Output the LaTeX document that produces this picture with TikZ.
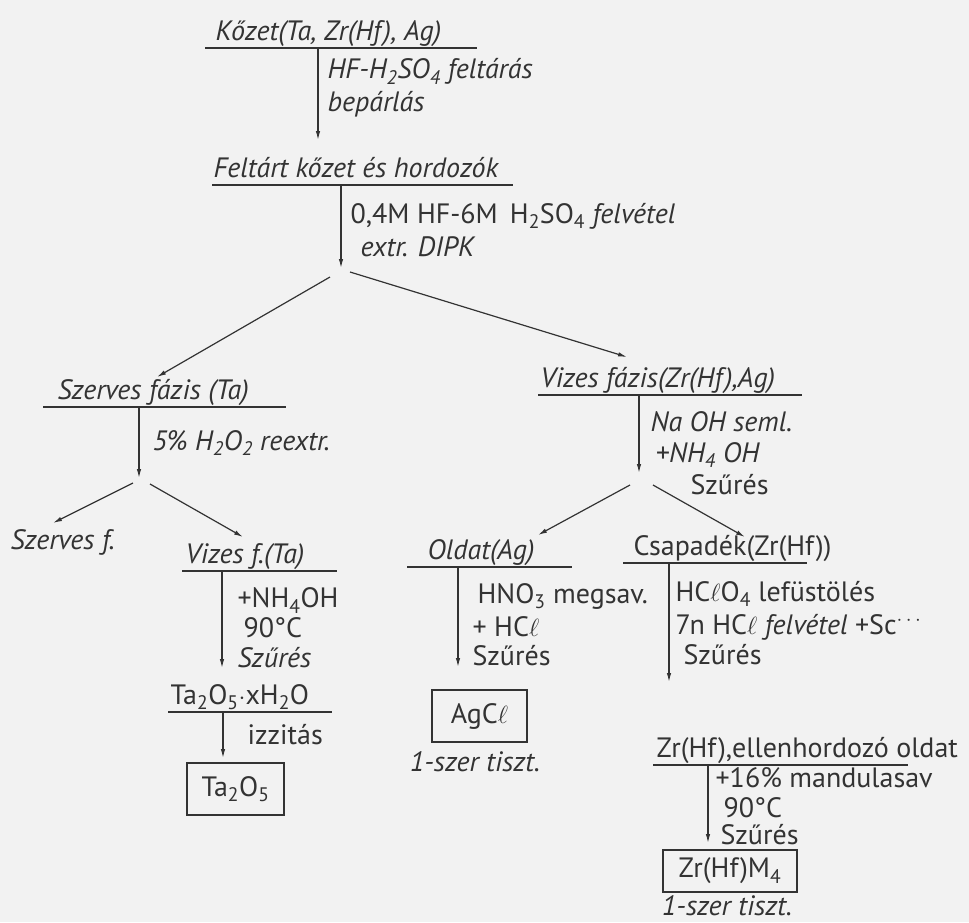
\documentclass[tikz,border=0pt]{standalone}
\usepackage{fontspec}
\setmainfont{PT Sans}
\usetikzlibrary{arrows.meta}

\begin{document}
\begin{tikzpicture}[x=1pt, y=-1pt,
        >={Latex[length=9pt,width=4.5pt]},   %Pfeilspitzen
        font=\fontsize{28}{33}\selectfont, line width=1.2pt, color=black!80,
        ul/.style={anchor=south west, inner sep=0pt, text depth=7pt},
        lbl/.style={anchor=west, align=left, inner sep=0pt},
        rahmen/.style={draw, inner sep=0pt}]
        %Hintergrund
        \path[use as bounding box, fill=gray!10] (0,0) rectangle (969,922);
        % Stoffe (unterstrichen)
        \node[ul] (koz) at (215,48) {\textit{Kőzet(Ta, Zr(Hf), Ag)}};
        \node[ul] (felt) at (213,185) {\textit{Feltárt kőzet és hordozók}};
        \node[ul] (szerv) at (57,407) {\textit{Szerves fázis (Ta)}};
        \node[ul] (vizes) at (540,395) {\textit{Vizes fázis(Zr(Hf),Ag)}};
        \node[ul] (vizesf) at (185,571) {\textit{Vizes f.(Ta)}};
        \node[ul] (taox) at (170,712) {Ta\textsubscript{2}O\textsubscript{5}$\cdot$xH\textsubscript{2}O};
        \node[ul] (oldat) at (427,567) {\textit{Oldat(Ag)}};
        \node[ul] (csap) at (633,563) {Csapadék(Zr(Hf))};
        \node[ul] (zrell) at (656,765) {Zr(Hf),ellenhordozó oldat};
        \foreach \n/\d/\w in {koz/10/272, felt/1/301, szerv/14/243, vizes/2/264, vizesf/3/155,
            taox/2/164, oldat/20/165, csap/10/184, zrell/3/255}
            \draw (\n.south west) ++(-\d,0) -- ++(\w,0);
        % Endprodukte
        \node[rahmen, minimum width=97pt, minimum height=52pt] (tao) at (235.5,789) {Ta\textsubscript{2}O\textsubscript{5}};
        \node[rahmen, minimum width=95pt, minimum height=52pt] (agcl) at (479.5,716) {AgC$\ell$};
        \node[rahmen, minimum width=134pt, minimum height=42pt] (zrm) at (730,871) {Zr(Hf)M\textsubscript{4}};
        \node[anchor=west, inner sep=0pt] (szf) at (10,542) {\textit{Szerves f.}};
        \node[inner sep=0pt] (tiszt1) at (475,762) {\textit{1-szer tiszt.}};
        \node[inner sep=0pt] (tiszt2) at (727,906) {\textit{1-szer tiszt.}};
        % Arbeitsschritte
        \node[lbl] (l1) at (327,88) {\textit{HF-H\textsubscript{2}SO\textsubscript{4} feltárás}\\\textit{bepárlás}};
        \node[lbl] (l2) at (350,230) {0,4M HF-6M\, H\textsubscript{2}SO\textsubscript{4} \textit{felvétel}\\\hspace*{10pt}\textit{extr. DIPK}};
        \node[lbl] (l3) at (152,443) {\textit{5\% H\textsubscript{2}O\textsubscript{2} reextr.}};
        \node[lbl] (l4) at (650,453) {\textit{Na OH seml.}\\[-2pt]\hspace*{5pt}\textit{+NH\textsubscript{4} OH}\\[-1pt]\hspace*{40pt}Szűrés};
        \node[lbl] (l5) at (237,628) {+NH\textsubscript{4}OH\\[-3pt]\hspace*{6pt}90°C\\[-3pt]\textit{Szűrés}};
        \node[lbl] (l6) at (247,735) {izzitás};
        \node[lbl] (l7) at (472,625) {\hspace*{5pt}HNO\textsubscript{3} megsav.\\+ HC$\ell$\\[-4pt]Szűrés};
        \node[lbl] (l8) at (675,623) {HC$\ell$O\textsubscript{4} lefüstölés\\7n HC$\ell$ \textit{felvétel} +Sc\textsuperscript{$\cdots$}\\[-3pt]\hspace*{8pt}Szűrés};
        \node[lbl] (l9) at (715,806) {+16\% mandulasav\\[-3pt]\hspace*{8pt}90°C\\[-6pt]\hspace*{5pt}Szűrés};
        % Pfeilenden und Verzweigungen
        \coordinate (e1) at (318,140);
        \coordinate (e2) at (341,268);
        \coordinate (e3) at (139,478);
        \coordinate (e4) at (639,473);
        \coordinate (e5) at (222,668);
        \coordinate (e6) at (223,758);
        \coordinate (e7) at (458,667);
        \coordinate (e8) at (669,682);
        \coordinate (e9) at (708,843);
        \foreach \n/\e in {koz/e1, felt/e2, szerv/e3, vizes/e4, vizesf/e5, taox/e6, oldat/e7, csap/e8, zrell/e9}
            \draw[->] (\n.south west -| \e) -- (\e);
        \draw[->] (330,277) -- (157,377);
        \draw[->] (350,272) -- (627,357);
        \draw[->] (133,483) -- (53,523);
        \draw[->] (150,484) -- (243,537);
        \draw[->] (630,485) -- (538,535);
        \draw[->] (653,485) -- (745,537);
    \end{tikzpicture}
\end{document}
